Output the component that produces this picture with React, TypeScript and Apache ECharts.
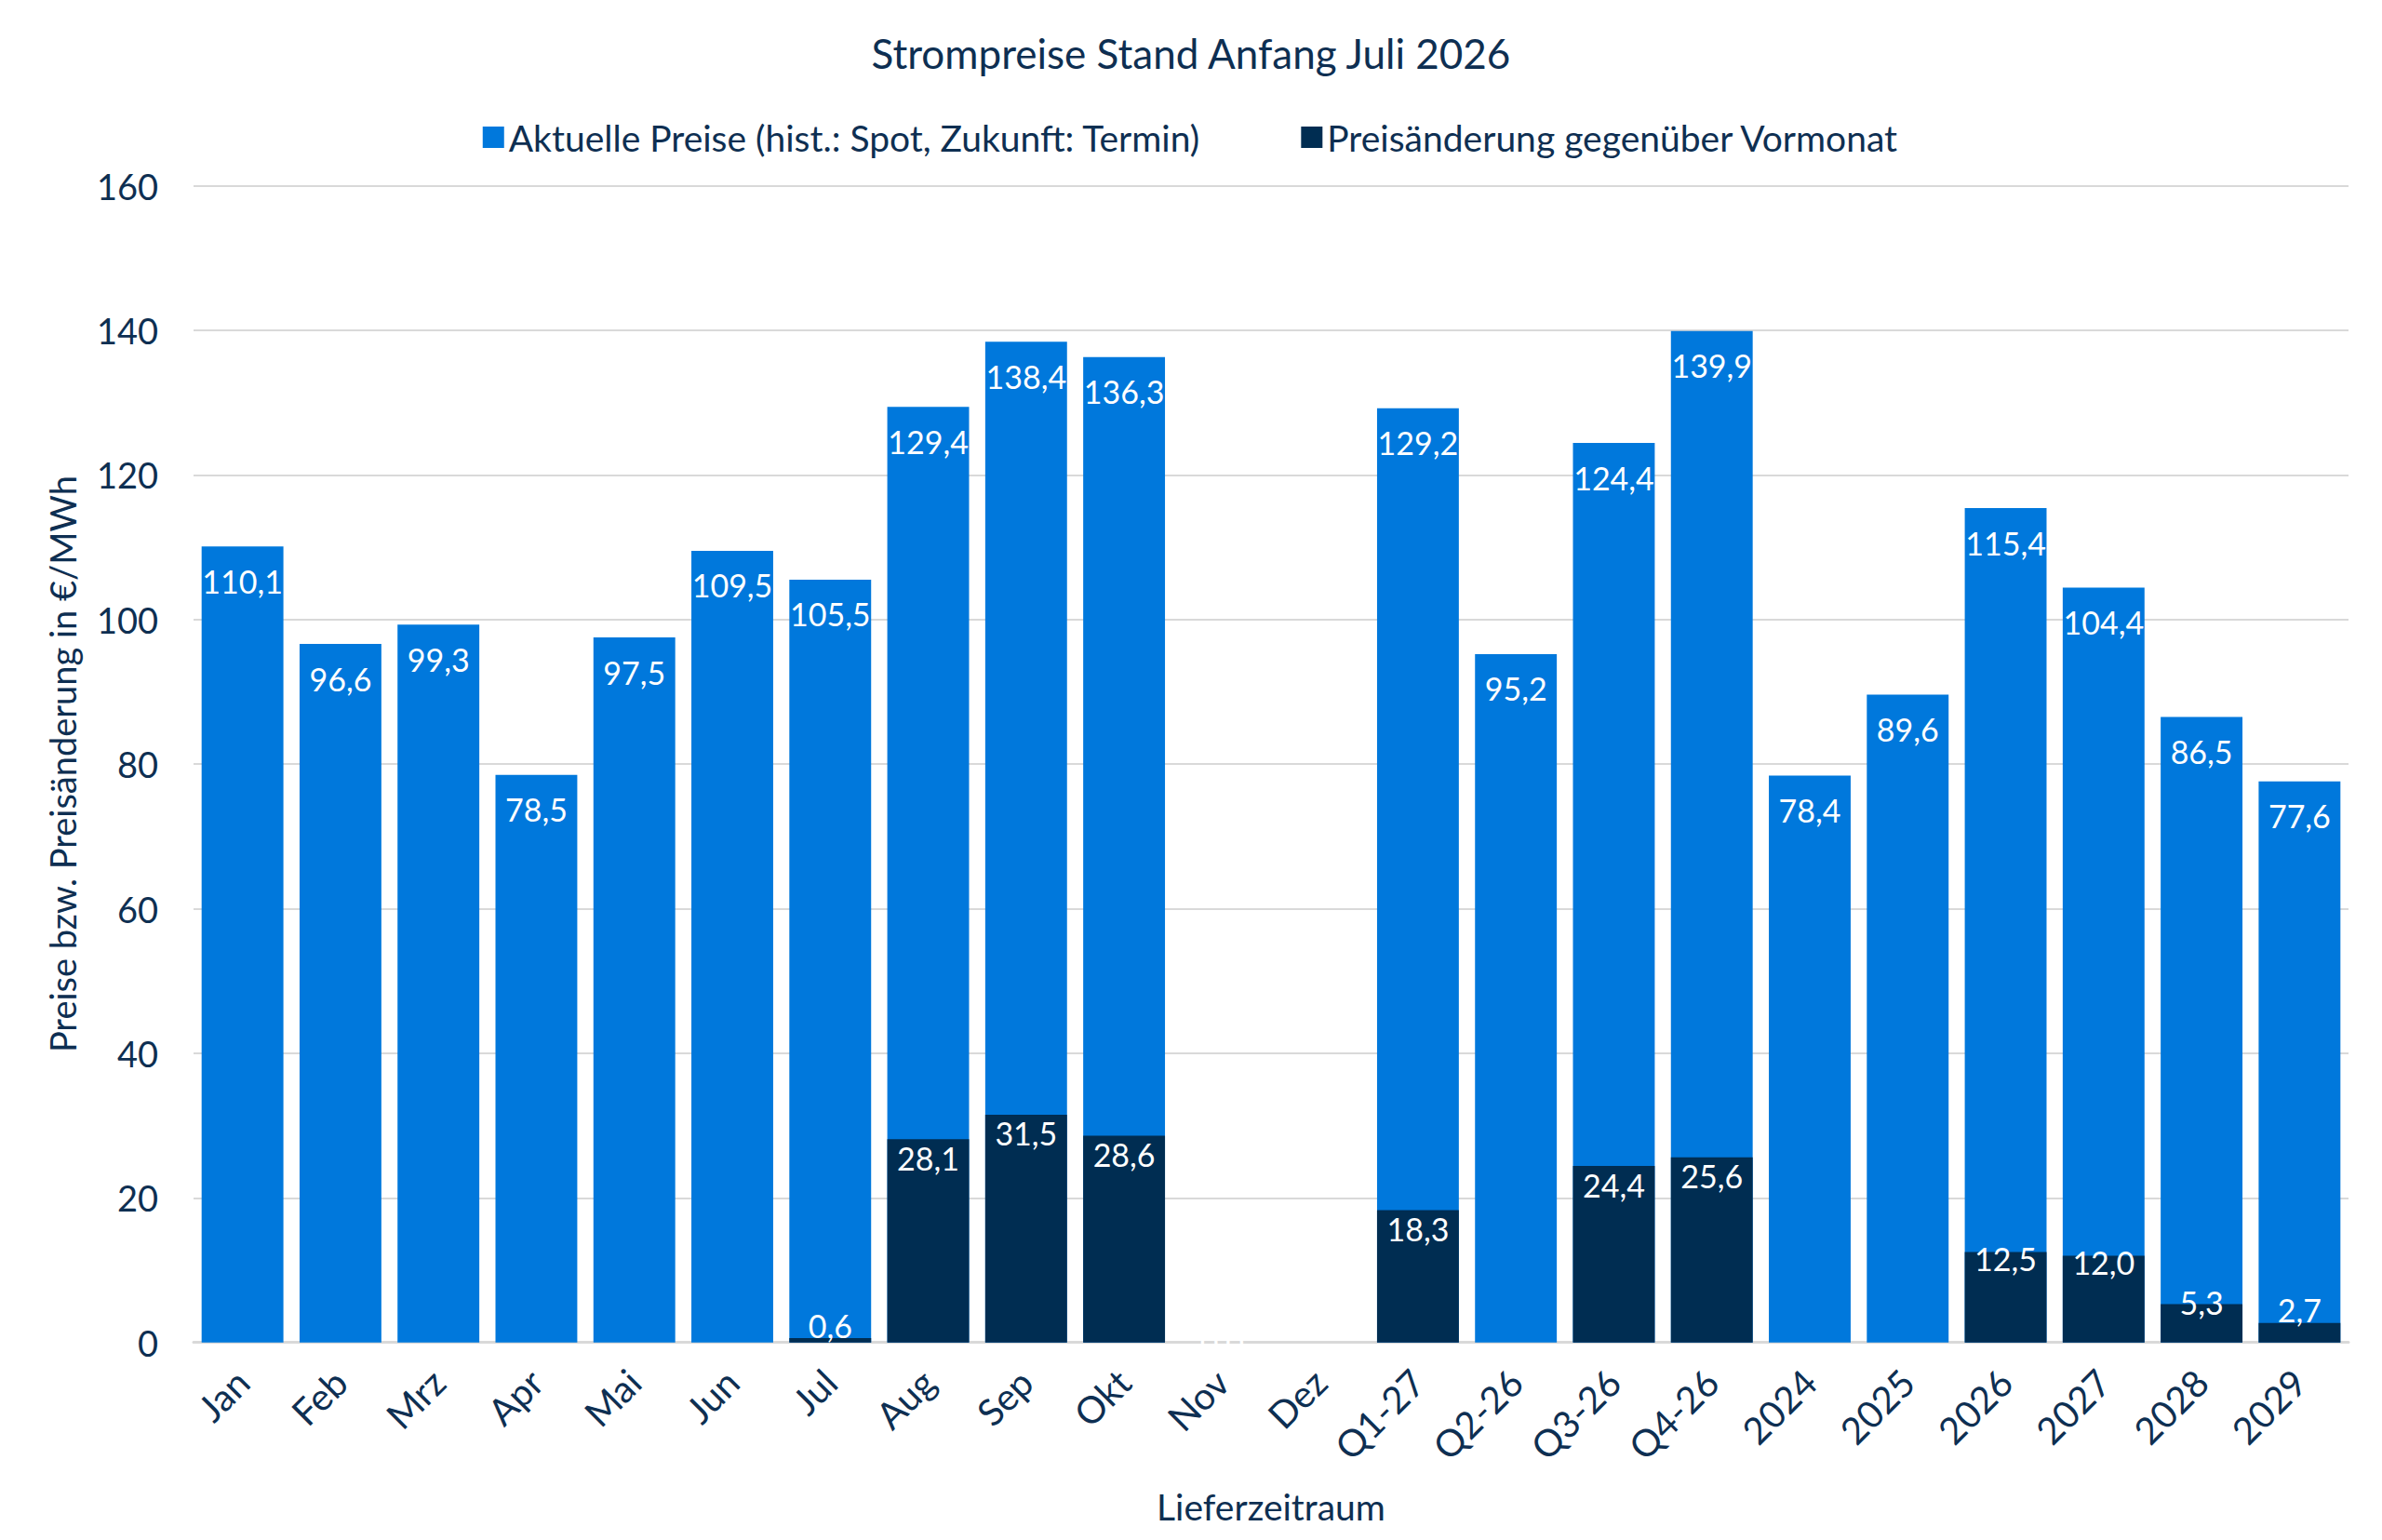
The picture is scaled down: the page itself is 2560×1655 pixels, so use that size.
import { useEffect, useRef } from 'react'
import * as echarts from 'echarts'

const categories = ['Jan', 'Feb', 'Mrz', 'Apr', 'Mai', 'Jun', 'Jul', 'Aug', 'Sep', 'Okt', 'Nov', 'Dez',
  'Q1-27', 'Q2-26', 'Q3-26', 'Q4-26', '2024', '2025', '2026', '2027', '2028', '2029']
const prices = [110.1, 96.6, 99.3, 78.5, 97.5, 109.5, 105.5, 129.4, 138.4, 136.3, null, null,
  129.2, 95.2, 124.4, 139.9, 78.4, 89.6, 115.4, 104.4, 86.5, 77.6]
const changes = [null, null, null, null, null, null, 0.6, 28.1, 31.5, 28.6, 0, null,
  18.3, null, 24.4, 25.6, null, null, 12.5, 12.0, 5.3, 2.7]
const yTicks = { min: 0, max: 160, interval: 20 }

const TEXT = '#0E2F52'
const BLUE = '#0078DC'
const NAVY = '#002D52'
const FONT = 'Lato, "Open Sans", sans-serif'

const fmt = (v: number) => v.toFixed(1).replace('.', ',')

export default function App() {
  const ref = useRef<HTMLDivElement>(null)

  useEffect(() => {
    if (!ref.current) return
    const chart = echarts.init(ref.current, undefined, { renderer: 'svg' })

    // labels of the small change bars move up so they stay above the axis
    const changeData = changes.map(v => {
      if (v == null) return null
      if (v === 0) return { value: v, label: { position: 'inside' } }
      if (v < 4) return { value: v, label: { position: 'top', distance: -3 } }
      if (v < 8) return { value: v, label: { position: 'top', distance: -15 } }
      if (v < 15) return { value: v, label: { position: 'top', distance: -24 } }
      return v
    })

    chart.setOption({
      animation: false,
      backgroundColor: '#ffffff',
      textStyle: { fontFamily: FONT, color: TEXT },
      title: {
        text: 'Strompreise Stand Anfang Juli 2026',
        left: 'center', top: 30,
        textStyle: { fontFamily: FONT, fontSize: 44, fontWeight: 'normal', color: TEXT },
      },
      legend: {
        top: 123, left: 'center', itemWidth: 23, itemHeight: 23, itemGap: 108,
        icon: 'rect',
        textStyle: { fontFamily: FONT, fontSize: 39, color: TEXT },
        data: ['Aktuelle Preise (hist.: Spot, Zukunft: Termin)', 'Preisänderung gegenüber Vormonat'],
      },
      grid: { left: 208, right: 36, top: 199.5, bottom: 212.3 },
      xAxis: {
        type: 'category', data: categories,
        name: 'Lieferzeitraum', nameLocation: 'middle', nameGap: 157,
        nameTextStyle: { fontFamily: FONT, fontSize: 39, color: TEXT },
        axisLine: { lineStyle: { color: '#D9D9D9', width: 3 } },
        axisTick: { show: false },
        axisLabel: { rotate: 45, margin: 36, fontFamily: FONT, fontSize: 40, color: TEXT },
      },
      yAxis: {
        type: 'value', ...yTicks,
        name: 'Preise bzw. Preisänderung in €/MWh', nameLocation: 'middle', nameGap: 122,
        nameTextStyle: { fontFamily: FONT, fontSize: 38, color: TEXT },
        axisLine: { show: false }, axisTick: { show: false },
        axisLabel: { margin: 38, fontFamily: FONT, fontSize: 38, color: TEXT },
        splitLine: { lineStyle: { color: '#D9D9D9', width: 2 } },
      },
      series: [
        {
          name: 'Aktuelle Preise (hist.: Spot, Zukunft: Termin)', type: 'bar',
          data: prices, barCategoryGap: '16.5%', barGap: '-100%',
          itemStyle: { color: BLUE },
          label: {
            show: true, position: 'insideTop', distance: 20,
            color: '#ffffff', fontFamily: FONT, fontSize: 34,
            formatter: (p: any) => fmt(p.value),
          },
        },
        {
          name: 'Preisänderung gegenüber Vormonat', type: 'bar',
          data: changeData, barCategoryGap: '16.5%', barGap: '-100%',
          itemStyle: { color: NAVY },
          label: {
            show: true, position: 'insideTop', distance: 3,
            color: '#ffffff', fontFamily: FONT, fontSize: 34,
            formatter: (p: any) => fmt(p.value),
          },
        },
      ],
    })

    return () => chart.dispose()
  }, [])

  return <div ref={ref} style={{ position: 'absolute', left: 0, top: 0, width: 2560, height: 1655 }} />
}
